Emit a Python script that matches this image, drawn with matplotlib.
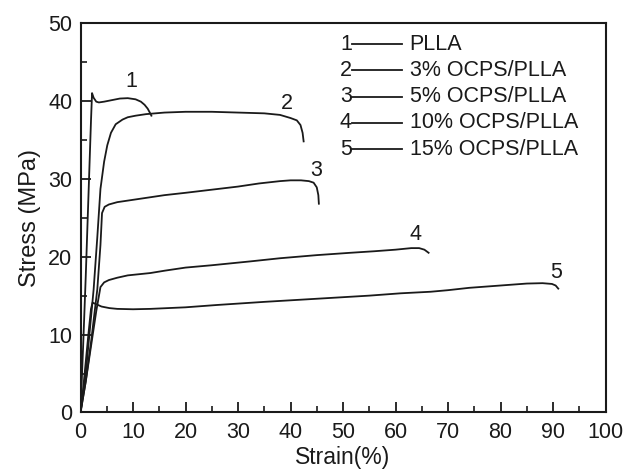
import matplotlib
matplotlib.use("Agg")
import matplotlib.pyplot as plt
from matplotlib.ticker import MultipleLocator

plt.rcParams['font.family'] = ['Liberation Sans', 'DejaVu Sans']

# ---- data (strain %, stress MPa) ----
strain1 = [0, 0.5, 1.0, 1.5, 2.0, 2.2, 2.5, 3.0, 3.5, 4.5, 6, 7.5, 9, 10.5, 11.5, 12.2, 12.8, 13.2, 13.5]
stress1 = [0, 8.5, 17.5, 27.5, 37.5, 41.0, 40.4, 39.9, 39.8, 39.9, 40.1, 40.3, 40.35, 40.2, 39.9, 39.5, 39.0, 38.5, 38.1]

strain2 = [0, 1, 2.5, 3.2, 3.8, 4.5, 5.1, 5.8, 6.7, 8, 9, 10.5, 12.5, 16, 20, 25, 30, 35, 38, 40, 41.2, 41.9, 42.3, 42.5]
stress2 = [0, 5, 15.8, 22.5, 28.7, 32.2, 34.3, 35.9, 37.0, 37.6, 37.9, 38.1, 38.3, 38.5, 38.6, 38.6, 38.5, 38.4, 38.2, 37.8, 37.5, 36.9, 35.9, 34.8]

strain3 = [0, 1, 2, 3.2, 3.8, 4.1, 4.6, 5.4, 7, 10, 16, 20, 25, 30, 34, 38, 40, 42, 43.5, 44.4, 45.0, 45.3, 45.4]
stress3 = [0, 4, 9, 15.8, 21.5, 25.6, 26.4, 26.7, 27.0, 27.3, 27.9, 28.2, 28.6, 29.0, 29.4, 29.7, 29.8, 29.8, 29.7, 29.5, 28.9, 27.9, 26.8]

strain4 = [0, 1, 2, 3, 3.8, 4.5, 5.4, 7, 9, 13.3, 16, 20, 25, 32.4, 38, 45, 51.4, 56, 60, 63, 64.5, 65.5, 66.3]
stress4 = [0, 4, 8.5, 13, 16.1, 16.7, 17.0, 17.3, 17.6, 17.9, 18.2, 18.6, 18.9, 19.4, 19.8, 20.2, 20.5, 20.7, 20.9, 21.1, 21.1, 20.9, 20.5]

strain5 = [0, 0.5, 1, 1.5, 2.0, 2.3, 3, 4, 5.5, 7, 10, 13.3, 20, 26, 35, 45, 55, 61, 66.7, 70, 74, 80, 85, 88, 89.8, 90.5, 91.0]
stress5 = [0, 3, 6.5, 10, 13.3, 14.1, 13.9, 13.6, 13.4, 13.3, 13.25, 13.3, 13.5, 13.8, 14.2, 14.6, 15.0, 15.3, 15.5, 15.7, 16.0, 16.3, 16.55, 16.6, 16.5, 16.3, 15.9]

curve_ids = ['1', '2', '3', '4', '5']
legend_labels = ['PLLA', '3% OCPS/PLLA', '5% OCPS/PLLA', '10% OCPS/PLLA', '15% OCPS/PLLA']
label_x = [9.7, 39.4, 44.8, 63.8, 90.6]
label_y = [42.5, 39.6, 31.1, 22.8, 18.0]

x_ticks = list(range(0, 101, 10))
y_ticks = list(range(0, 51, 10))

ink = '#1a1a1a'
fig = plt.figure(figsize=(6.26, 4.69), dpi=100)
ax = fig.add_axes([0.1286, 0.1205, 0.8387, 0.8305])

series = [(strain1, stress1), (strain2, stress2), (strain3, stress3),
          (strain4, stress4), (strain5, stress5)]
for (xs, ys) in series:
    ax.plot(xs, ys, color=ink, lw=1.3, solid_joinstyle='round')

for cid, lx, ly in zip(curve_ids, label_x, label_y):
    ax.text(lx, ly, cid, fontsize=15.5, color=ink, ha='center', va='center')

# custom legend
for i, (cid, lab) in enumerate(zip(curve_ids, legend_labels)):
    yy = 0.946 - i * 0.0675
    ax.text(0.517, yy, cid, transform=ax.transAxes, fontsize=15.5, color=ink,
            ha='right', va='center')
    ax.plot([0.517, 0.612], [yy, yy], transform=ax.transAxes, color=ink,
            lw=1.3, clip_on=False)
    ax.text(0.627, yy, lab, transform=ax.transAxes, fontsize=15.5, color=ink,
            ha='left', va='center')

ax.set_xlim(0, 100)
ax.set_ylim(0, 50)
ax.set_xticks(x_ticks)
ax.set_yticks(y_ticks)
ax.xaxis.set_minor_locator(MultipleLocator(5))
ax.yaxis.set_minor_locator(MultipleLocator(5))
ax.tick_params(which='major', direction='in', length=7, width=1.3, labelsize=15.5,
               colors=ink)
ax.tick_params(axis='x', which='major', pad=7)
ax.tick_params(axis='y', which='major', pad=6)
ax.tick_params(which='minor', direction='in', length=4, width=1.2, colors=ink)
for s in ax.spines.values():
    s.set_linewidth(1.5)
    s.set_color(ink)

ax.set_xlabel('Strain(%)', fontsize=16.5, color=ink, labelpad=2)
ax.set_ylabel('Stress (MPa)', fontsize=17, color=ink, labelpad=5)

fig.savefig('out.png', dpi=100)
